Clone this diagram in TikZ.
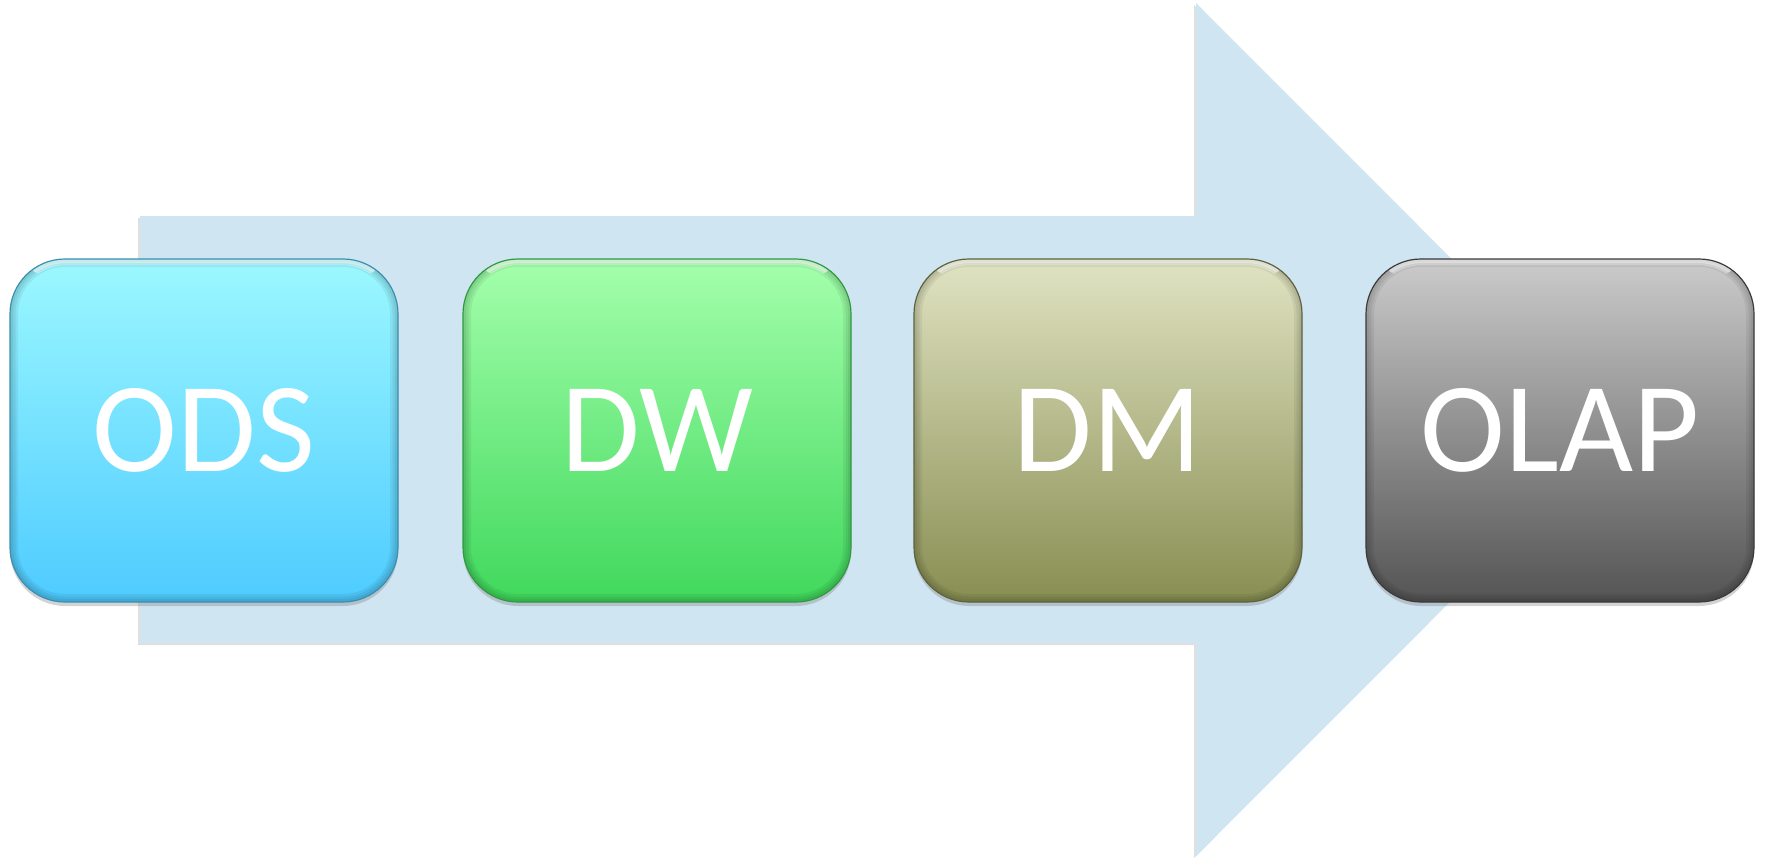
\documentclass[tikz,border=0pt]{standalone}
\usepackage{fontspec}
\setmainfont{Carlito}
\usetikzlibrary{shadows}
\definecolor{arrowblue}{HTML}{D0E5F2}
\definecolor{odsTop}{HTML}{9CF8FF}
\definecolor{odsBot}{HTML}{4ECBFF}
\definecolor{odsLine}{HTML}{3A8FB0}
\definecolor{dwTop}{HTML}{A4FFAC}
\definecolor{dwBot}{HTML}{40D85C}
\definecolor{dwLine}{HTML}{2E9A40}
\definecolor{dmTop}{HTML}{E0E3C2}
\definecolor{dmBot}{HTML}{888E52}
\definecolor{dmLine}{HTML}{5E6238}
\definecolor{olTop}{HTML}{CBCBCB}
\definecolor{olBot}{HTML}{545454}
\definecolor{olLine}{HTML}{3A3A3A}
\tikzset{
  edgepath/.style={rounded corners=55pt},
  stagebox/.style={rounded corners=55pt, minimum width=388pt, minimum height=343pt,
    inner sep=0pt, line width=1.2pt, text=white,
    font=\fontsize{128}{150}\selectfont,
    drop shadow={opacity=0.35, shadow xshift=0pt, shadow yshift=-4pt},
    path picture={
      \foreach \w in {16,11,6} {
        \draw[edgepath, black, opacity=0.06, line width=\w pt]
          (path picture bounding box.north west) rectangle
          (path picture bounding box.south east);
      }
      \begin{scope}
        \clip ([shift={(0pt,-22pt)}]path picture bounding box.north west) rectangle
              (path picture bounding box.north east);
        \foreach \w in {10,6} {
          \draw[edgepath, white, opacity=0.35, line width=\w pt]
            ([shift={(1pt,-1pt)}]path picture bounding box.north west) rectangle
            ([shift={(-1pt,1pt)}]path picture bounding box.south east);
        }
      \end{scope}
    }},
  bigarrow/.style={fill=arrowblue,
    drop shadow={opacity=0.25, shadow xshift=-2pt, shadow yshift=-2pt}}
}
\begin{document}
\begin{tikzpicture}[x=1pt,y=-1pt]
\useasboundingbox (0,0) rectangle (1765,860);
\fill[bigarrow] (140,216) -- (1196,216) -- (1196,3) -- (1622,429.5) -- (1196,856) -- (1196,643) -- (140,643) -- cycle;
\node[stagebox, draw=odsLine, top color=odsTop, bottom color=odsBot] (ods) at (204,430.5) {ODS};
\node[stagebox, draw=dwLine, top color=dwTop, bottom color=dwBot] (dw) at (657,430.5) {DW};
\node[stagebox, draw=dmLine, top color=dmTop, bottom color=dmBot] (dm) at (1108,430.5) {DM};
\node[stagebox, draw=olLine, top color=olTop, bottom color=olBot] (olap) at (1560,430.5) {OLAP};
\end{tikzpicture}
\end{document}
